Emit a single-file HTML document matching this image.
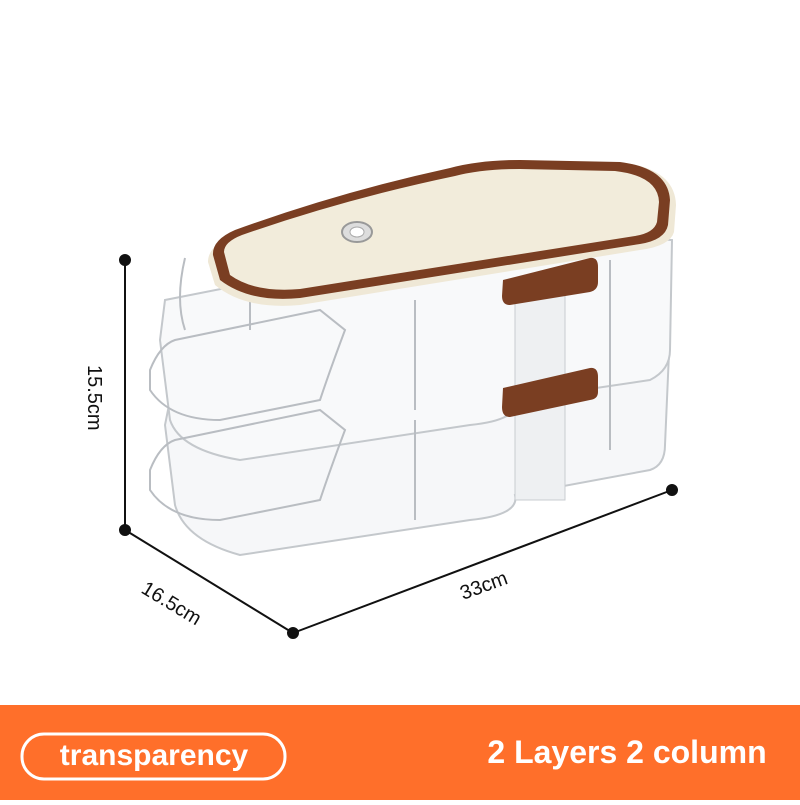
<!DOCTYPE html>
<html><head><style>
body{margin:0;width:800px;height:800px;background:#fff;overflow:hidden;font-family:"Liberation Sans",sans-serif}
</style></head><body>
<svg width="800" height="800" viewBox="0 0 800 800" xmlns="http://www.w3.org/2000/svg">
<g stroke="#111" stroke-width="2" fill="#111">
<line x1="125" y1="260" x2="125" y2="530"/>
<line x1="125" y1="530" x2="293" y2="633"/>
<line x1="293" y1="633" x2="672" y2="490"/>
<circle cx="125" cy="260" r="5"/><circle cx="125" cy="530" r="5"/>
<circle cx="293" cy="633" r="5"/><circle cx="672" cy="490" r="5"/>
</g>
<text x="0" y="0" transform="translate(88,365) rotate(90)" font-size="20" fill="#111">15.5cm</text>
<text x="0" y="0" transform="translate(140,592) rotate(31)" font-size="20" fill="#111">16.5cm</text>
<text x="0" y="0" transform="translate(463,600) rotate(-20)" font-size="20" fill="#111">33cm</text>
<g fill="#f6f7f9" stroke="#c4c8cc" stroke-width="2">
<path d="M165 425 L175 505 Q185 540 240 555 L470 520 Q520 515 515 495 L650 470 Q665 465 665 445 L670 330 L520 320 L170 400 Z"/>
<path d="M160 340 L170 420 Q180 450 240 460 L470 425 Q520 420 515 400 L650 380 Q670 370 670 350 L672 240 L520 230 L165 300 Z" fill="#f8f9fa"/>
</g>
<g stroke="#b9bdc2" stroke-width="2" fill="none">
<path d="M150 370 Q160 345 175 340 L320 310 L345 330 Q330 370 320 400 L220 420 Q170 420 150 390 Z"/>
<path d="M150 470 Q160 445 175 440 L320 410 L345 430 Q330 470 320 500 L220 520 Q170 520 150 490 Z"/>
<line x1="415" y1="300" x2="415" y2="410"/><line x1="415" y1="420" x2="415" y2="520"/>
<line x1="610" y1="260" x2="610" y2="360"/><line x1="610" y1="350" x2="610" y2="450"/>
<path d="M185 258 Q175 300 185 330"/><path d="M250 300 L250 330"/>
</g>
<rect x="515" y="285" width="50" height="215" fill="#eef0f2" stroke="#c8ccd0"/>
<path d="M208 262 Q208 246 232 236 Q340 195 450 170 Q480 160 520 160 L625 163 Q675 170 676 205 L674 232 Q670 246 640 250 L300 305 Q245 310 215 285 Z" fill="#efe8d6"/>
<path d="M213 255 Q212 240 235 230 Q340 192 450 168 Q480 160 520 160 L620 162 Q668 168 670 200 L668 225 Q665 240 640 244 L300 298 Q250 303 220 280 Z" fill="#7a3e22"/>
<path d="M224 252 Q224 242 242 235 Q345 199 455 176 Q482 169 520 169 L615 171 Q658 176 659 202 L657 222 Q654 233 635 236 L300 289 Q255 293 230 275 Z" fill="#f2ecdb"/>
<ellipse cx="357" cy="232" rx="15" ry="10" fill="#ddd" stroke="#999" stroke-width="2"/>
<ellipse cx="357" cy="232" rx="7" ry="5" fill="#fff" stroke="#aaa"/>
<path d="M503 280 L590 258 Q598 257 598 267 L598 282 Q598 290 590 292 L510 305 Q502 305 502 296 Z" fill="#7a3e22"/>
<path d="M503 388 L590 368 Q598 367 598 377 L598 392 Q598 399 590 400 L510 417 Q502 417 502 407 Z" fill="#7a3e22"/>
<rect x="0" y="705" width="800" height="95" fill="#ff6f2a"/>
<rect x="22" y="734" width="263" height="45" rx="22" fill="none" stroke="#fff" stroke-width="3"/>
<text x="154" y="765" text-anchor="middle" font-size="30" fill="#fff" font-weight="bold">transparency</text>
<text x="627" y="763" text-anchor="middle" font-size="32" fill="#fff" font-weight="bold">2 Layers 2 column</text>
</svg>
</body></html>
